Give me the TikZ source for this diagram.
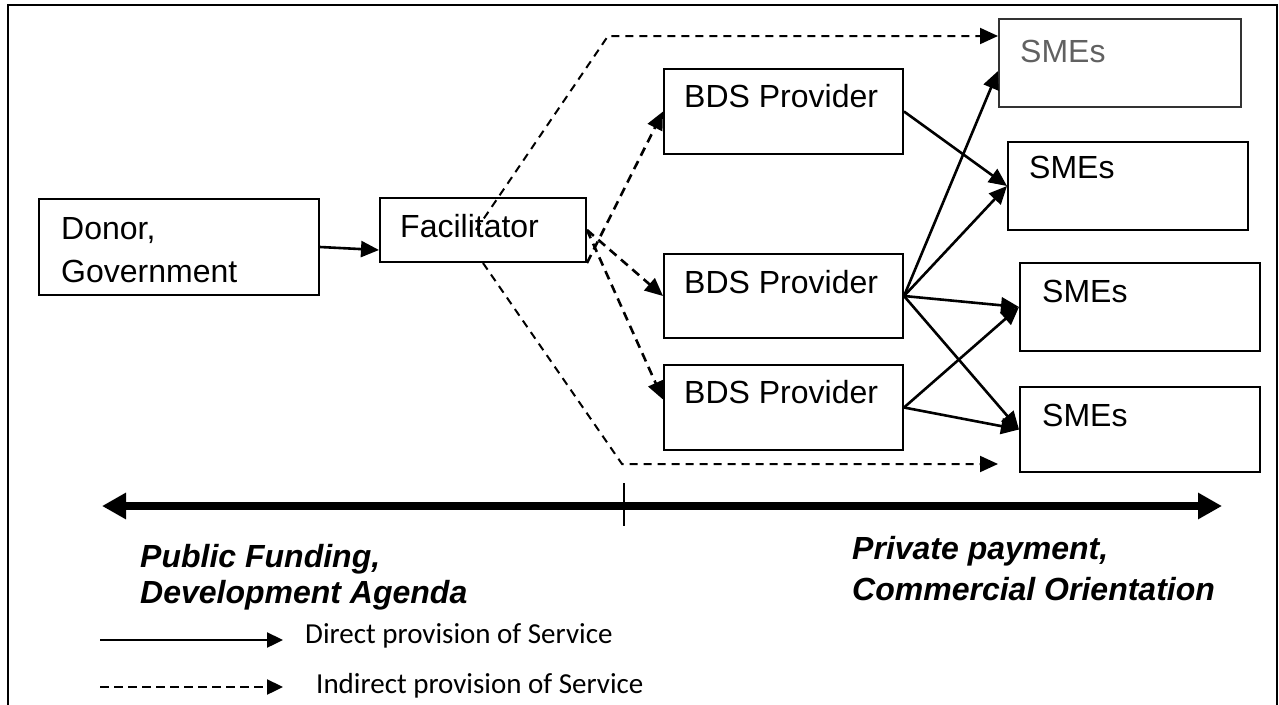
\documentclass[tikz,border=0pt]{standalone}
\usepackage{fontspec}
\setmainfont{Liberation Sans}
\newfontfamily\legendfont{Carlito}
\usetikzlibrary{arrows.meta,calc}
\begin{document}
\begin{tikzpicture}[x=1pt,y=-1pt,
  box/.style={draw, line width=2pt, inner sep=0pt, anchor=north west},
  lbl/.style={anchor=base west, inner sep=0pt, font=\fontsize{32}{43}\selectfont},
  tag/.style={anchor=base west, inner sep=0pt, font=\fontsize{32}{40}\selectfont\bfseries\itshape},
  legtext/.style={anchor=base west, inner sep=0pt, font=\legendfont\fontsize{29}{34}\selectfont},
  tip/.style={-{Triangle[length=18pt,width=16pt]}},
  direct/.style={tip, line width=2.6pt},
  indirect/.style={tip, line width=2.6pt, dash pattern=on 9pt off 6pt},
  longindirect/.style={tip, line width=2pt, dash pattern=on 8pt off 6pt},
  axis/.style={{Triangle[length=24pt,width=25pt]}-{Triangle[length=24pt,width=25pt]}, line width=7.5pt}
]
\useasboundingbox (0,0) rectangle (1279,704);

% outer frame, open at the bottom
\draw[line width=2.8pt] (8,712) -- (8,5) -- (1277,5) -- (1277,712);

% boxes
\node[box, minimum width=280pt, minimum height=96pt] (donor) at (38,198) {};
\node[box, minimum width=206pt, minimum height=64pt] (fac)   at (379,197) {};
\node[box, minimum width=239pt, minimum height=85pt] (bds1)  at (663,68) {};
\node[box, minimum width=239pt, minimum height=84pt] (bds2)  at (663,253) {};
\node[box, minimum width=239pt, minimum height=85pt] (bds3)  at (663,364) {};
\node[box, draw=black!80, minimum width=242pt, minimum height=88pt] (sme1) at (998,18) {};
\node[box, minimum width=240pt, minimum height=88pt] (sme2)  at (1007,141) {};
\node[box, minimum width=240pt, minimum height=88pt] (sme3)  at (1019,262) {};
\node[box, minimum width=240pt, minimum height=85pt] (sme4)  at (1019,386) {};

% box texts
\node[lbl] (donorA) at ($(donor.north west)+(23,41)$) {Donor,};
\node[lbl] (donorB) at ($(donor.north west)+(23,84)$) {Government};
\node[lbl] (facT)   at ($(fac.north west)+(21,40)$) {Facilitator};
\node[lbl] (bds1T)  at ($(bds1.north west)+(21,39)$) {BDS Provider};
\node[lbl] (bds2T)  at ($(bds2.north west)+(21,40)$) {BDS Provider};
\node[lbl] (bds3T)  at ($(bds3.north west)+(21,39)$) {BDS Provider};
\node[lbl, text=black!62] (sme1T) at ($(sme1.north west)+(22,44)$) {SMEs};
\node[lbl] (sme2T)  at ($(sme2.north west)+(22,37)$) {SMEs};
\node[lbl] (sme3T)  at ($(sme3.north west)+(23,40)$) {SMEs};
\node[lbl] (sme4T)  at ($(sme4.north west)+(23,40)$) {SMEs};

% funding flow
\draw[direct] (donor.east) -- ([yshift=-20pt]fac.west);

% facilitator to providers (indirect)
\draw[indirect] (fac.south east) -- (bds1.west);
\draw[indirect] (fac.east) -- (bds2.west);
\draw[indirect] (fac.east) -- ([yshift=8pt]bds3.west);

% facilitator straight to SMEs (indirect)
\coordinate (topbend) at (608,36);
\coordinate (botbend) at (622,464);
\coordinate (botend)  at (998,464);
\draw[longindirect] ([xshift=-7pt]fac.center) -- (topbend) -- (sme1.west |- topbend);
\draw[longindirect] (fac.south) -- (botbend) -- (botend);

% providers to SMEs (direct)
\draw[direct] (bds1.east) -- (sme2.west);
\draw[direct] (bds2.east) -- ([yshift=-8pt]sme1.west);
\draw[direct] (bds2.east) -- (sme2.west);
\draw[direct] (bds2.east) -- (sme3.west);
\draw[direct] (bds2.east) -- (sme4.west);
\draw[direct] (bds3.east) -- (sme3.west);
\draw[direct] (bds3.east) -- (sme4.west);

% public / private axis
\coordinate (axL) at (102,506);
\coordinate (axR) at (1222,506);
\coordinate (tickT) at (624,483);
\coordinate (tickB) at (624,526);
\draw[axis] (axL) -- (axR);
\draw[line width=2.4pt] (tickT) -- (tickB);

\node[tag] (pubA)  at (140,567) {Public Funding,};
\node[tag] (pubB)  at (140,603) {Development Agenda};
\node[tag] (privA) at (852,559) {Private payment,};
\node[tag] (privB) at (852,600) {Commercial Orientation};

% legend
\coordinate (legAs) at (100,640);
\coordinate (legAe) at (283,640);
\coordinate (legBs) at (100,687);
\coordinate (legBe) at (283,687);
\draw[line width=2.4pt, -{Triangle[length=16pt,width=15pt]}] (legAs) -- (legAe);
\draw[line width=2.4pt, dash pattern=on 9pt off 5pt, -{Triangle[length=16pt,width=15pt]}] (legBs) -- (legBe);
\node[legtext] (legA) at (305,643) {Direct provision of Service};
\node[legtext] (legB) at (316,693) {Indirect provision of Service};
\end{tikzpicture}
\end{document}
